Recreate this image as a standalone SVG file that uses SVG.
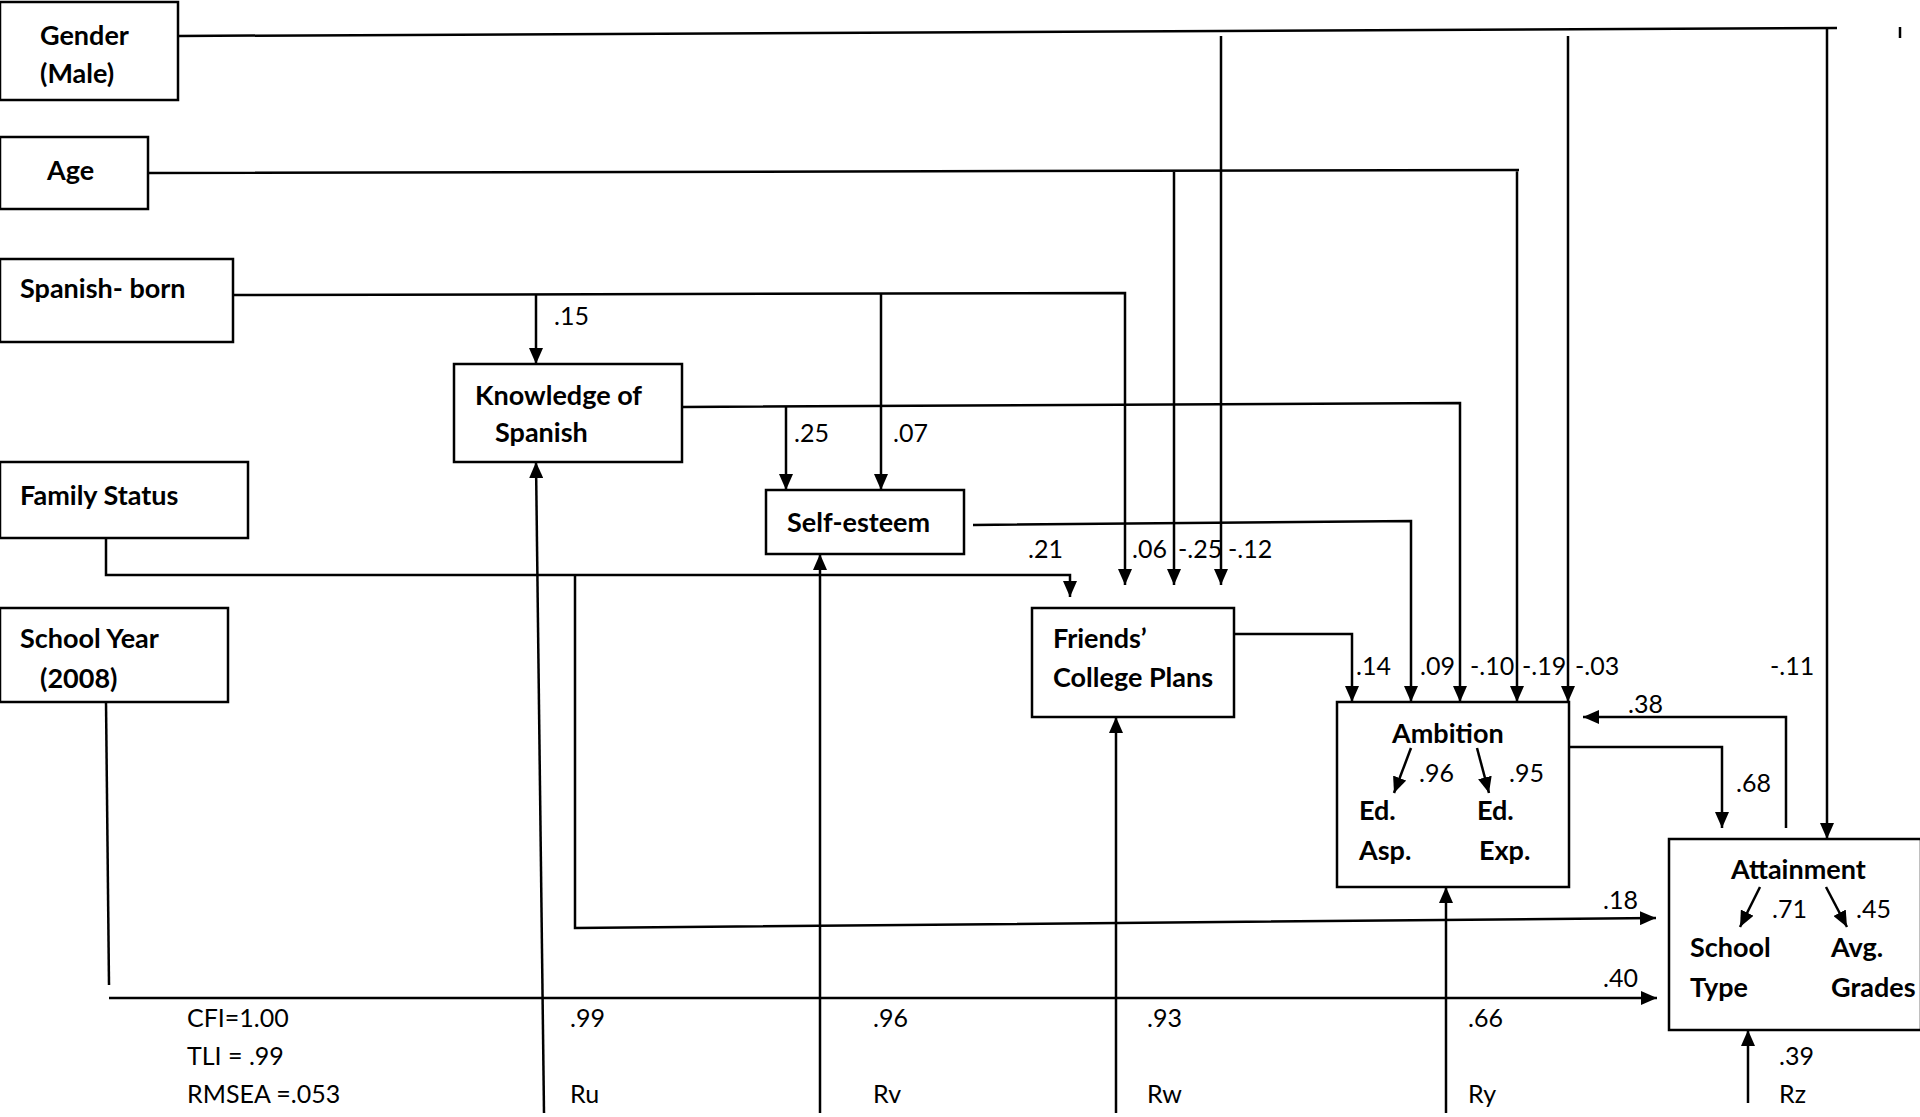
<svg xmlns="http://www.w3.org/2000/svg" width="1920" height="1117" viewBox="0 0 1920 1117">
<style>
.box{fill:#fff;stroke:#000;stroke-width:2.5}
.n{font-family:Lato,"Liberation Sans",sans-serif;font-weight:bold;font-size:27px;fill:#000}
.l{font-family:Lato,"Liberation Sans",sans-serif;font-size:25px;fill:#000}
.c{fill:none;stroke:#000;stroke-width:2.5}
.a{marker-end:url(#ah)}
</style>
<defs>
<marker id="ah" viewBox="0 0 16 14" refX="16" refY="7" markerWidth="16" markerHeight="14" markerUnits="userSpaceOnUse" orient="auto">
<path d="M0,0 L16,7 L0,14 z" fill="#000"/>
</marker>
</defs>
<rect width="1920" height="1117" fill="#fff"/>

<g id="connectors">
<path class="c a" d="M536,295 V364"/>
<path class="c a" d="M682,407 L1460,403 V702"/>
<path class="c a" d="M786,406 V490"/>
<path class="c a" d="M233,295 L1125,293 V585"/>
<path class="c a" d="M881,294 V490"/>
<path class="c a" d="M148,173 L1519,170 M1517,170 V702"/>
<path class="c a" d="M1174,172 V585"/>
<path class="c" d="M178,36 L1837,28"/>
<path class="c a" d="M1221,36 V585"/>
<path class="c a" d="M1568,36 V702"/>
<path class="c a" d="M1827,28 V839"/>
<path class="c a" d="M106,538 V575 H1070 V597"/>
<path class="c a" d="M575,575 V928 L1656,918"/>
<path class="c" d="M106,702 L109,985"/>
<path class="c a" d="M109,998 H1657"/>
<path class="c a" d="M973,525 L1411,521 V702"/>
<path class="c a" d="M1234,634 H1352 V702"/>
<path class="c a" d="M1569,747 H1722 V828"/>
<path class="c a" d="M1786,828 V717 H1583"/>
<path class="c a" d="M544,1113 L536,462"/>
<path class="c a" d="M820,1113 V554"/>
<path class="c a" d="M1116,1113 V717"/>
<path class="c a" d="M1446,1113 V887"/>
<path class="c a" d="M1748,1103 V1030"/>
<path class="c" d="M1900,27 V38"/>
</g>

<g id="gender"><rect class="box" x="0" y="2" width="178" height="98"/>
<text class="n" x="40" y="45">Gender</text><text class="n" x="40" y="83">(Male)</text></g>
<g id="age"><rect class="box" x="0" y="137" width="148" height="72"/>
<text class="n" x="47" y="180">Age</text></g>
<g id="spanish-born"><rect class="box" x="0" y="259" width="233" height="83"/>
<text class="n" x="20" y="298">Spanish- born</text></g>
<g id="family-status"><rect class="box" x="0" y="462" width="248" height="76"/>
<text class="n" x="20" y="505">Family Status</text></g>
<g id="school-year"><rect class="box" x="0" y="608" width="228" height="94"/>
<text class="n" x="20" y="648">School Year</text><text class="n" x="40" y="688">(2008)</text></g>
<g id="knowledge"><rect class="box" x="454" y="364" width="228" height="98"/>
<text class="n" x="475" y="405">Knowledge of</text><text class="n" x="495" y="442">Spanish</text></g>
<g id="self-esteem"><rect class="box" x="766" y="490" width="198" height="64"/>
<text class="n" x="787" y="532">Self-esteem</text></g>
<g id="friends"><rect class="box" x="1032" y="608" width="202" height="109"/>
<text class="n" x="1053" y="648">Friends’</text><text class="n" x="1053" y="687">College Plans</text></g>
<g id="ambition"><rect class="box" x="1337" y="702" width="232" height="185"/>
<text class="n" x="1392" y="743">Ambition</text>
<path class="c a" d="M1411,748 L1394,793"/>
<path class="c a" d="M1477,748 L1489,793"/>
<text class="n" x="1359" y="820">Ed.</text><text class="n" x="1359" y="860">Asp.</text>
<text class="n" x="1477" y="820">Ed.</text><text class="n" x="1479" y="860">Exp.</text></g>
<g id="attainment"><rect class="box" x="1669" y="839" width="252" height="191"/>
<text class="n" x="1731" y="879">Attainment</text>
<path class="c a" d="M1760,887 L1740,927"/>
<path class="c a" d="M1826,887 L1847,927"/>
<text class="n" x="1690" y="957">School</text><text class="n" x="1690" y="997">Type</text>
<text class="n" x="1831" y="957">Avg.</text><text class="n" x="1831" y="997">Grades</text></g>

<g id="labels">
<text class="l" x="554" y="325">.15</text>
<text class="l" x="794" y="442">.25</text>
<text class="l" x="893" y="442">.07</text>
<text class="l" x="1028" y="558">.21</text>
<text class="l" x="1132" y="558">.06</text>
<text class="l" x="1178" y="558">-.25</text>
<text class="l" x="1228" y="558">-.12</text>
<text class="l" x="1356" y="675">.14</text>
<text class="l" x="1420" y="675">.09</text>
<text class="l" x="1470" y="675">-.10</text>
<text class="l" x="1522" y="675">-.19</text>
<text class="l" x="1575" y="675">-.03</text>
<text class="l" x="1770" y="675">-.11</text>
<text class="l" x="1628" y="713">.38</text>
<text class="l" x="1736" y="792">.68</text>
<text class="l" x="1419" y="782">.96</text>
<text class="l" x="1509" y="782">.95</text>
<text class="l" x="1772" y="918">.71</text>
<text class="l" x="1856" y="918">.45</text>
<text class="l" x="1603" y="909">.18</text>
<text class="l" x="1603" y="987">.40</text>
<text class="l" x="187" y="1027">CFI=1.00</text>
<text class="l" x="187" y="1065">TLI = .99</text>
<text class="l" x="187" y="1103">RMSEA =.053</text>
<text class="l" x="570" y="1027">.99</text>
<text class="l" x="873" y="1027">.96</text>
<text class="l" x="1147" y="1027">.93</text>
<text class="l" x="1468" y="1027">.66</text>
<text class="l" x="1779" y="1065">.39</text>
<text class="l" x="570" y="1103">Ru</text>
<text class="l" x="873" y="1103">Rv</text>
<text class="l" x="1147" y="1103">Rw</text>
<text class="l" x="1468" y="1103">Ry</text>
<text class="l" x="1779" y="1103">Rz</text>
</g>
</svg>
